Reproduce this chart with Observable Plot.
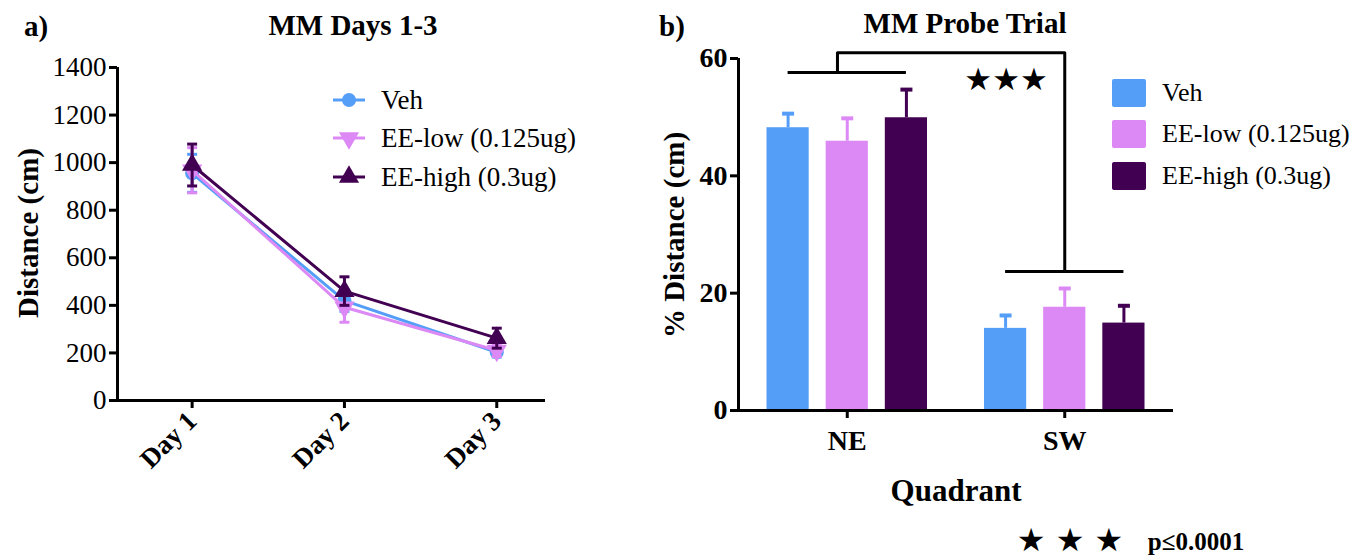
<!DOCTYPE html>
<html>
<head>
<meta charset="utf-8">
<script src="https://cdn.jsdelivr.net/npm/d3@7"></script>
<script src="https://cdn.jsdelivr.net/npm/@observablehq/plot@0.6"></script>
<style>
  body { margin: 0; background: #fff; }
  #wrap { position: relative; width: 1368px; height: 559px; overflow: hidden; color: #000; font-family: "Liberation Serif", serif; }
  .abs { position: absolute; white-space: nowrap; line-height: 1; }
  .c { transform: translate(-50%, -50%); }
  .b { font-weight: bold; }
  .rot { transform: translate(-50%, -50%) rotate(-90deg); }
  .plot { position: absolute; top: 0; }
  .leg { position: absolute; display: flex; align-items: center; font-size: 27px; white-space: nowrap; line-height: 1; }
  .star { font-family: "DejaVu Sans", sans-serif !important; }
</style>
</head>
<body>
<div id="wrap">
  <div id="left" class="plot" style="left:0px"></div>
  <div id="right" class="plot" style="left:600px"></div>
</div>
<script>
// ---------- data ----------
const days = ["Day 1", "Day 2", "Day 3"];
const groups = ["Veh", "EE-low (0.125ug)", "EE-high (0.3ug)"];
const colors = ["#559ef7", "#dc89f5", "#420052"];

// Panel a: distance (cm), mean and SEM per day
const vehMean  = [955, 420, 203];
const vehSem   = [80, 45, 20];
const lowMean  = [968, 392, 210];
const lowSem   = [95, 63, 25];
const highMean = [990, 460, 262];
const highSem  = [88, 60, 42];

// Panel b: % distance per quadrant
const quadrants = ["NE", "SW"];
const barVeh     = [48.2, 14.0];
const barVehSem  = [2.4, 2.2];
const barLow     = [45.9, 17.6];
const barLowSem  = [3.9, 3.2];
const barHigh    = [49.9, 14.9];
const barHighSem = [4.8, 2.95];

// significance bracket levels (% distance)
const bracketNE = 57.6, bracketTop = 61.0, bracketSW = 23.7;

const yTicksA = [0, 200, 400, 600, 800, 1000, 1200, 1400];
const yTicksB = [0, 20, 40, 60];

const FONT = '"Liberation Serif", "Times New Roman", serif';

// ---------- helpers ----------
const downTriangle = {
  draw(ctx, size) {
    const s = Math.sqrt(size / (3 * Math.sqrt(3)));
    ctx.moveTo(0, 2 * s);
    ctx.lineTo(-Math.sqrt(3) * s, -s);
    ctx.lineTo(Math.sqrt(3) * s, -s);
    ctx.closePath();
  }
};
const capSymbol = {
  draw(ctx, size) {
    const r = Math.sqrt(size / Math.PI);
    ctx.moveTo(-r, 0);
    ctx.lineTo(r, 0);
  }
};
const symbols = ["circle", downTriangle, "triangle"];

// ---------- panel a ----------
const meansA = [vehMean, lowMean, highMean];
const semsA = [vehSem, lowSem, highSem];
const seriesA = groups.map((g, gi) => days.map((d, di) => ({
  day: di + 1, mean: meansA[gi][di], sem: semsA[gi][di]
})));

const xDomA = [0.51, 3.32];
const marksA = [
  Plot.axisY({ticks: yTicksA, tickFormat: d => String(d), tickSize: 8, tickPadding: 3, strokeWidth: 3, fontSize: 27, label: null}),
  Plot.axisX({ticks: [1, 2, 3], tickFormat: i => days[i - 1], tickSize: 8, tickPadding: 8, tickRotate: -45,
              strokeWidth: 3, fontSize: 27, fontWeight: "bold", label: null}),
  Plot.ruleY([0], {strokeWidth: 3}),
  Plot.ruleX([xDomA[0]], {strokeWidth: 3})
];
seriesA.forEach((s, gi) => {
  const c = colors[gi];
  marksA.push(
    Plot.ruleX(s, {x: "day", y1: d => d.mean - d.sem, y2: d => d.mean + d.sem, stroke: c, strokeWidth: 3}),
    Plot.dot(s, {x: "day", y: d => d.mean + d.sem, symbol: capSymbol, r: 5, stroke: c, strokeWidth: 3, fill: "none"}),
    Plot.dot(s, {x: "day", y: d => d.mean - d.sem, symbol: capSymbol, r: 5, stroke: c, strokeWidth: 3, fill: "none"}),
    Plot.line(s, {x: "day", y: "mean", stroke: c, strokeWidth: 3}),
    Plot.dot(s, {x: "day", y: "mean", symbol: symbols[gi], r: gi === 0 ? 7 : 7.5, fill: c, stroke: "none"})
  );
});

const plotA = Plot.plot({
  width: 560, height: 480,
  marginLeft: 117, marginRight: 15, marginTop: 67, marginBottom: 80,
  style: {fontFamily: FONT, fontSize: "27px", color: "#000", background: "transparent", overflow: "visible"},
  x: {domain: xDomA, axis: null},
  y: {domain: [0, 1400], axis: null},
  marks: marksA
});
document.getElementById("left").appendChild(plotA);

// ---------- panel b ----------
const valsB = [barVeh, barLow, barHigh];
const semsB = [barVehSem, barLowSem, barHighSem];
const groupStep = 0.272, barHalf = 0.097;
const bars = [];
quadrants.forEach((q, qi) => {
  groups.forEach((g, gi) => {
    const pos = qi + 1 + (gi - 1) * groupStep;
    bars.push({q, g, gi, pos, value: valsB[gi][qi], sem: semsB[gi][qi]});
  });
});

const marksB = [
  Plot.axisY({ticks: yTicksB, tickSize: 8, tickPadding: 3, strokeWidth: 3, fontSize: 28, fontWeight: "bold", label: null}),
  Plot.axisX({ticks: [1, 2], tickFormat: i => quadrants[i - 1], tickSize: 8, tickPadding: 12,
              strokeWidth: 3, fontSize: 28, fontWeight: "bold", label: null})
];
groups.forEach((g, gi) => {
  const b = bars.filter(d => d.gi === gi);
  const c = colors[gi];
  marksB.push(
    Plot.ruleX(b, {x: "pos", y1: "value", y2: d => d.value + d.sem, stroke: c, strokeWidth: 3}),
    Plot.dot(b, {x: "pos", y: d => d.value + d.sem, symbol: capSymbol, r: 6, stroke: c, strokeWidth: 4, fill: "none"}),
    Plot.rectY(b, {x1: d => d.pos - barHalf, x2: d => d.pos + barHalf, y1: 0, y2: "value", fill: c})
  );
});
// bracket
const neL = 1 - groupStep, neR = 1 + groupStep, swL = 2 - groupStep, swR = 2 + groupStep;
marksB.push(
  Plot.ruleY([bracketNE], {x1: neL, x2: neR, strokeWidth: 3}),
  Plot.ruleY([bracketSW], {x1: swL, x2: swR, strokeWidth: 3}),
  Plot.line([{x: 0.955, y: bracketNE}, {x: 0.955, y: bracketTop}, {x: 2, y: bracketTop}, {x: 2, y: bracketSW}],
            {x: "x", y: "y", strokeWidth: 3}),
  Plot.text(["★★★"], {x: 1.73, y: 56.3, text: d => d, fontSize: 31, fontFamily: '"DejaVu Sans", sans-serif', fill: "#000"}),
  Plot.ruleY([0], {strokeWidth: 3}),
  Plot.ruleX([0.5], {strokeWidth: 3})
);

const plotB = Plot.plot({
  width: 600, height: 480,
  marginLeft: 138, marginRight: 27, marginTop: 58, marginBottom: 70,
  style: {fontFamily: FONT, fontSize: "28px", color: "#000", background: "transparent", overflow: "visible"},
  x: {domain: [0.5, 2.5], axis: null},
  y: {domain: [0, 60], axis: null},
  marks: marksB
});
document.getElementById("right").appendChild(plotB);

// ---------- text & legends ----------
const wrap = document.getElementById("wrap");
function addText(txt, x, y, cls, size) {
  const d = document.createElement("div");
  d.className = "abs " + cls;
  d.style.left = x + "px"; d.style.top = y + "px"; d.style.fontSize = size + "px";
  d.textContent = txt;
  wrap.appendChild(d);
  return d;
}
addText("a)", 36, 26, "c b", 29);
addText("MM Days 1-3", 353, 25, "c b", 29);
addText("Distance (cm)", 28, 233, "rot b", 29);
addText("b)", 672, 26, "c b", 29);
addText("MM Probe Trial", 965, 23, "c b", 29);
addText("% Distance (cm)", 674, 235, "rot b", 29);
addText("Quadrant", 956, 490, "c b", 31);
addText("★ ★ ★", 1070, 540, "c star", 32);
addText("p≤0.0001", 1196, 541, "c b", 25);

// left legend (line + marker)
const legYA = [100, 138, 177];
groups.forEach((g, gi) => {
  const row = document.createElement("div");
  row.className = "leg";
  row.style.left = "331px"; row.style.top = (legYA[gi] - 15) + "px"; row.style.height = "30px";
  const ns = "http://www.w3.org/2000/svg";
  const svg = document.createElementNS(ns, "svg");
  svg.setAttribute("width", 36); svg.setAttribute("height", 30);
  svg.style.marginRight = "14px";
  const line = document.createElementNS(ns, "line");
  line.setAttribute("x1", 2); line.setAttribute("x2", 34); line.setAttribute("y1", 15); line.setAttribute("y2", 15);
  line.setAttribute("stroke", colors[gi]); line.setAttribute("stroke-width", 3);
  svg.appendChild(line);
  const p = document.createElementNS(ns, "path");
  const sym = gi === 0 ? d3.symbol(d3.symbolCircle, Math.PI * 49) : gi === 1 ? d3.symbol(downTriangle, Math.PI * 56) : d3.symbol(d3.symbolTriangle, Math.PI * 56);
  p.setAttribute("d", sym());
  p.setAttribute("transform", "translate(18,15)");
  p.setAttribute("fill", colors[gi]);
  svg.appendChild(p);
  row.appendChild(svg);
  const t = document.createElement("span");
  t.textContent = g;
  row.appendChild(t);
  wrap.appendChild(row);
});

// right legend (swatches)
const legYB = [93, 134, 176];
groups.forEach((g, gi) => {
  const row = document.createElement("div");
  row.className = "leg";
  row.style.left = "1112px"; row.style.top = (legYB[gi] - 14) + "px"; row.style.height = "28px";
  row.style.fontSize = "26px";
  const sw = document.createElement("div");
  sw.style.cssText = `width:34px;height:28px;background:${colors[gi]};border-radius:2px;margin-right:16px;`;
  row.appendChild(sw);
  const t = document.createElement("span");
  t.textContent = g;
  row.appendChild(t);
  wrap.appendChild(row);
});
</script>
</body>
</html>
